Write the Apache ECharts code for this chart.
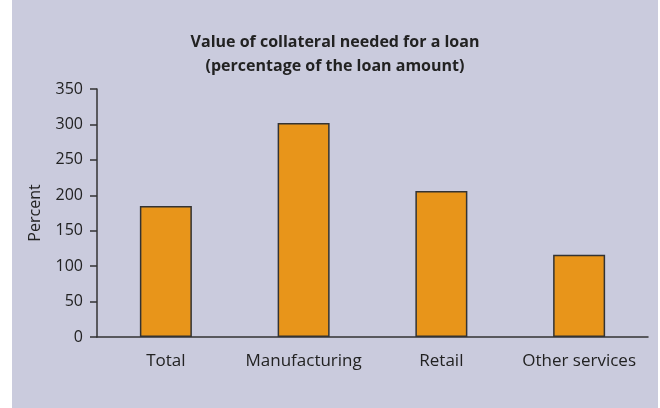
<!DOCTYPE html>
<html>
<head>
<meta charset="utf-8">
<script src="https://cdn.jsdelivr.net/npm/echarts@6/dist/echarts.min.js"></script>
<style>
  html, body { margin: 0; padding: 0; background: #ffffff; }
  #main { position: absolute; left: 12px; top: 0; width: 646px; height: 408px; background: #cacbdd; }
</style>
</head>
<body>
<div id="main"></div>
<script>
// 数据
const categories = ['Total', 'Manufacturing', 'Retail', 'Other services'];
const collateral = [185, 302, 206, 116];
const titleLines = ['Value of collateral needed for a loan', '(percentage of the loan amount)'];

const fontFamily = '"Open Sans", Lato, sans-serif';

var chart = echarts.init(document.getElementById('main'));

var option = {
    backgroundColor: 'transparent',
    animation: false,
    title: {
        text: titleLines.join('\n'),
        left: 'center',
        top: 25,
        textStyle: {
            fontFamily: fontFamily,
            fontSize: 16,
            fontWeight: 'bold',
            color: '#222',
            lineHeight: 24
        }
    },
    grid: {
        left: 85,
        right: 10,
        top: 89,
        bottom: 71
    },
    xAxis: {
        type: 'category',
        data: categories,
        axisLine: { lineStyle: { color: '#333', width: 1.5 } },
        axisTick: { show: false },
        axisLabel: {
            interval: 0,
            fontFamily: fontFamily,
            fontSize: 17,
            color: '#222',
            margin: 16
        }
    },
    yAxis: {
        type: 'value',
        min: 0,
        max: 350,
        interval: 50,
        name: 'Percent',
        nameLocation: 'middle',
        nameGap: 54,
        nameTextStyle: {
            fontFamily: fontFamily,
            fontSize: 16,
            color: '#222'
        },
        axisLine: { show: true, lineStyle: { color: '#333', width: 1.5 } },
        axisTick: { show: true, length: 7, lineStyle: { color: '#333', width: 1.5 } },
        splitLine: { show: false },
        axisLabel: {
            fontFamily: fontFamily,
            fontSize: 16,
            color: '#222',
            margin: 14
        }
    },
    series: [{
        type: 'bar',
        data: collateral,
        barWidth: 52,
        itemStyle: {
            color: '#e8951a',
            borderColor: '#333',
            borderWidth: 1.5
        }
    }]
};

chart.setOption(option);
</script>
</body>
</html>
